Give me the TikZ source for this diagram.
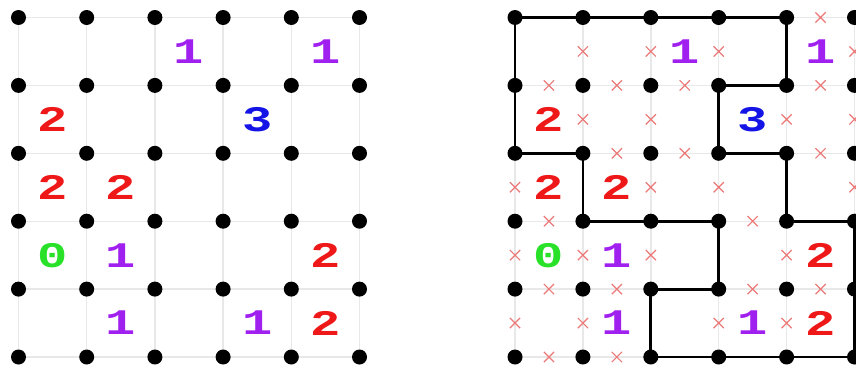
\documentclass[tikz,border=0pt]{standalone}
\usepackage{fontspec}
\usepackage{graphicx}
\usetikzlibrary{calc,shapes.misc}
\newfontfamily\digitfont{Liberation Mono}
\definecolor{cpurple}{RGB}{160,32,240}
\definecolor{cred}{RGB}{238,24,24}
\definecolor{cblue}{RGB}{20,20,230}
\definecolor{cgreen}{RGB}{40,225,40}
\definecolor{xred}{RGB}{236,120,120}
\definecolor{gridgrey}{RGB}{232,232,232}
\tikzset{
  gridline/.style={draw=gridgrey, line width=1.4pt},
  dot/.style={circle, fill=black, inner sep=0pt, minimum size=15pt},
  looppath/.style={draw=black, line width=2.8pt, line join=round},
  clue/.style={font=\digitfont\bfseries\fontsize{36}{36}\selectfont, inner sep=0pt},
  xmark/.style={cross out, draw=xred, line width=1.2pt, inner sep=0pt, minimum size=9pt},
}
\begin{document}
\begin{tikzpicture}[x=1pt,y=-1pt]
\useasboundingbox (0,0) rectangle (856,372);
\clip (0,0) rectangle (856,372);
% coordinates of both grids
\foreach \i in {0,...,5} {
  \foreach \j in {0,...,5} {
    \coordinate (L-\i-\j) at ({18.5+68.2*\i},{17.5+67.9*\j});
    \coordinate (R-\i-\j) at ({515+67.9*\i},{17.5+67.9*\j});
  }
}
% faint grid lines
\foreach \g in {L,R} {
  \foreach \k in {0,...,5} {
    \draw[gridline] (\g-0-\k) -- (\g-5-\k);
    \draw[gridline] (\g-\k-0) -- (\g-\k-5);
  }
}
% solution loop
\draw[looppath] (R-0-0) -- (R-4-0) -- (R-4-1) -- (R-3-1) -- (R-3-2) -- (R-4-2)
  -- (R-4-3) -- (R-5-3) -- (R-5-5) -- (R-2-5) -- (R-2-4) -- (R-3-4) -- (R-3-3)
  -- (R-1-3) -- (R-1-2) -- (R-0-2) -- cycle;
% crosses on excluded edges (horizontal)
\foreach \i/\j in {4/0, 0/1,1/1,2/1,4/1, 1/2,2/2,4/2, 0/3,3/3, 0/4,1/4,3/4,4/4, 0/5,1/5} {
  \pgfmathtruncatemacro\ni{\i+1}
  \node[xmark] (XH-\i-\j) at ($(R-\i-\j)!0.5!(R-\ni-\j)$) {};
}
% crosses on excluded edges (vertical)
\foreach \i/\j in {1/0,2/0,3/0,5/0, 1/1,2/1,4/1,5/1, 0/2,2/2,3/2,5/2, 0/3,1/3,2/3,4/3, 0/4,1/4,3/4,4/4} {
  \pgfmathtruncatemacro\nj{\j+1}
  \node[xmark] (XV-\i-\j) at ($(R-\i-\j)!0.5!(R-\i-\nj)$) {};
}
% dots
\foreach \g in {L,R} {
  \foreach \i in {0,...,5} {
    \foreach \j in {0,...,5} {
      \node[dot] (D\g-\i-\j) at (\g-\i-\j) {};
    }
  }
}
% clues
\foreach \g in {L,R} {
  \foreach \c/\r/\v/\col in {2/0/1/cpurple, 4/0/1/cpurple, 0/1/2/cred, 3/1/3/cblue,
      0/2/2/cred, 1/2/2/cred, 0/3/0/cgreen, 1/3/1/cpurple, 4/3/2/cred,
      1/4/1/cpurple, 3/4/1/cpurple, 4/4/2/cred} {
    \pgfmathtruncatemacro\nc{\c+1}
    \pgfmathtruncatemacro\nr{\r+1}
    \node[clue, text=\col] (C\g-\c-\r) at ($(\g-\c-\r)!0.5!(\g-\nc-\nr)$) {\scalebox{1.4}[1]{\v}};
  }
}
\end{tikzpicture}
\end{document}
